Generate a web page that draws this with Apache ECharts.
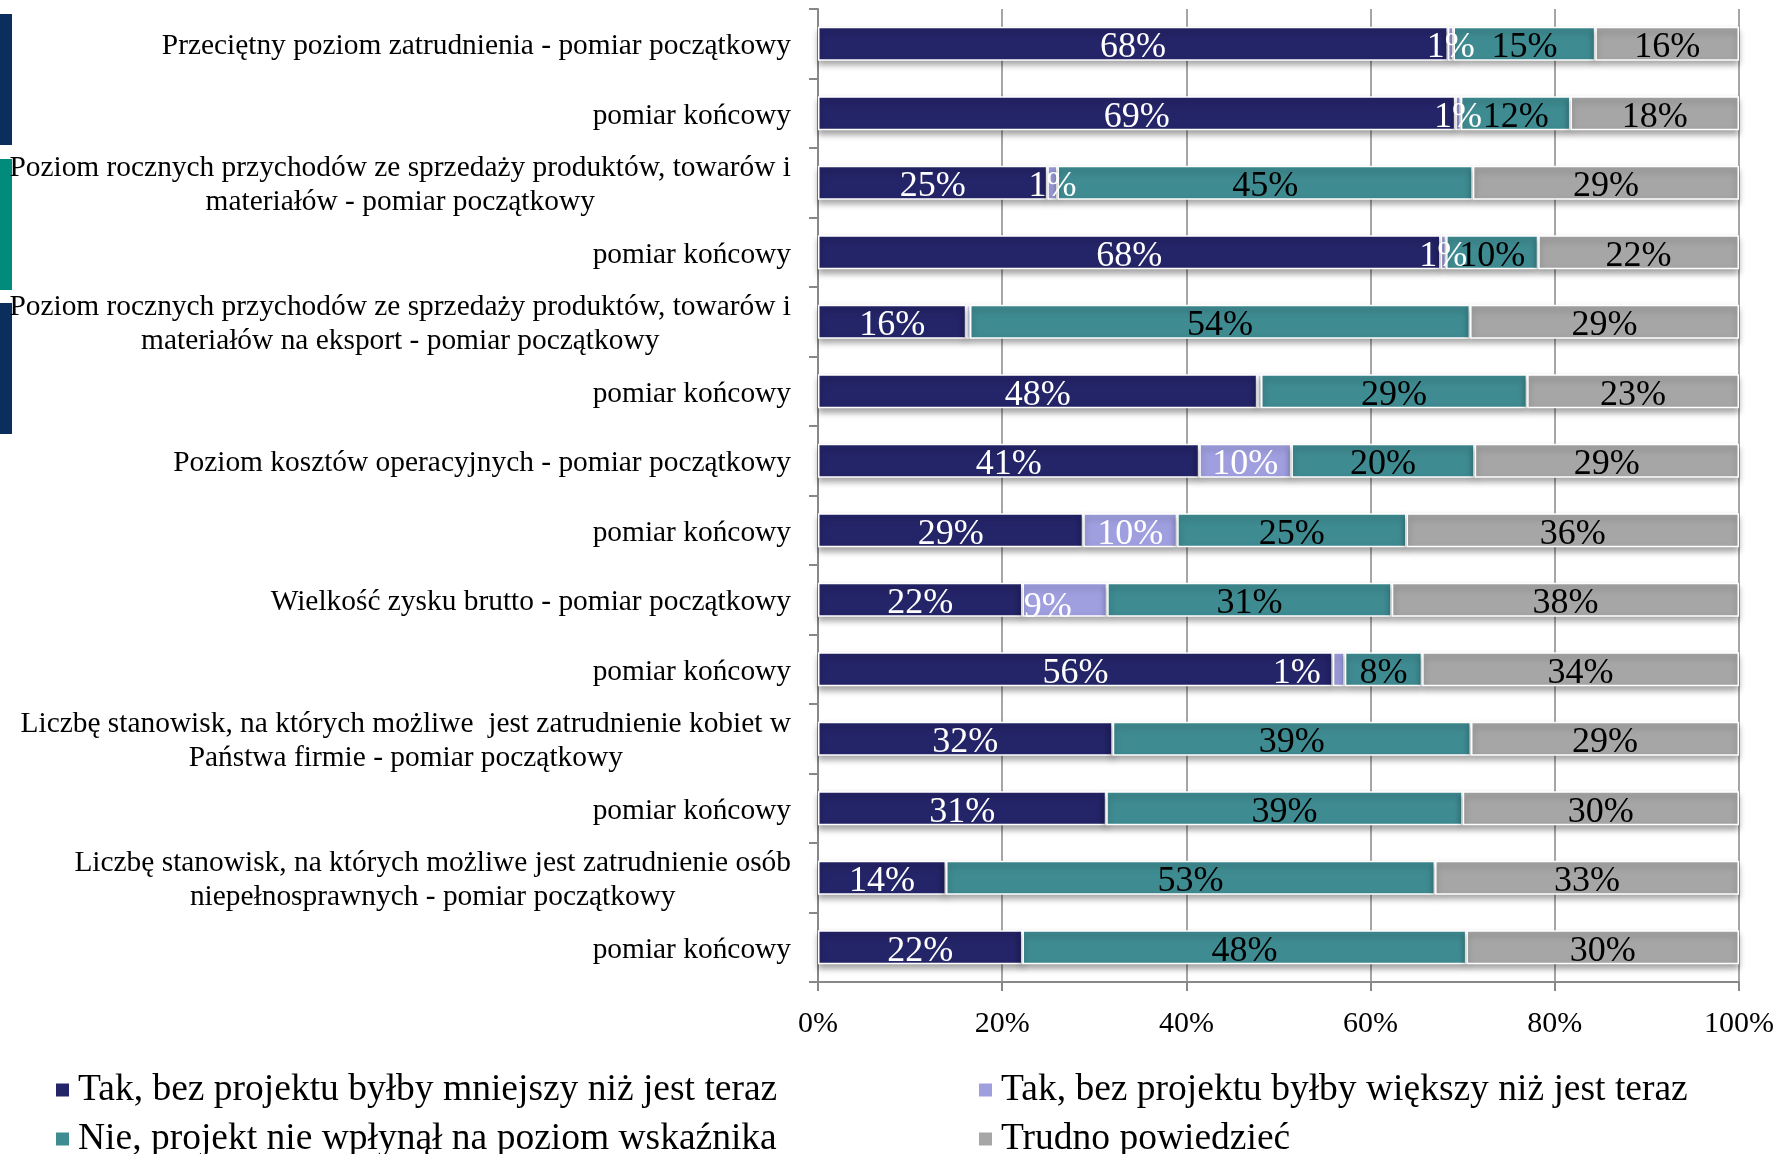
<!DOCTYPE html>
<html><head><meta charset="utf-8">
<script src="https://cdn.jsdelivr.net/npm/echarts@6/dist/echarts.min.js"></script>
<style>html,body{margin:0;padding:0;background:#fff}#c{width:1777px;height:1154px}</style>
</head><body><div id="c"></div>
<script>
const categories = [
  'Przeciętny poziom zatrudnienia - pomiar początkowy',
  'pomiar końcowy',
  'Poziom rocznych przychodów ze sprzedaży produktów, towarów i\nmateriałów - pomiar początkowy',
  'pomiar końcowy',
  'Poziom rocznych przychodów ze sprzedaży produktów, towarów i\nmateriałów na eksport - pomiar początkowy',
  'pomiar końcowy',
  'Poziom kosztów operacyjnych - pomiar początkowy',
  'pomiar końcowy',
  'Wielkość zysku brutto - pomiar początkowy',
  'pomiar końcowy',
  'Liczbę stanowisk, na których możliwe  jest zatrudnienie kobiet w\nPaństwa firmie - pomiar początkowy',
  'pomiar końcowy',
  'Liczbę stanowisk, na których możliwe jest zatrudnienie osób\nniepełnosprawnych - pomiar początkowy',
  'pomiar końcowy'
];
const seriesNames = [
  'Tak, bez projektu byłby mniejszy niż jest teraz',
  'Tak, bez projektu byłby większy niż jest teraz',
  'Nie, projekt nie wpłynął na poziom wskaźnika',
  'Trudno powiedzieć'
];
const smallerValues = [68.4, 69.2, 24.9, 67.6, 16.1, 47.7, 41.4, 28.8, 22.2, 55.9, 32.0, 31.3, 13.9, 22.2];
const biggerValues  = [0.6, 0.6, 1.1, 0.6, 0.4, 0.4, 10.0, 10.2, 9.2, 1.3, 0, 0, 0, 0];
const noEffectValues = [15.4, 11.9, 45.1, 10.0, 54.3, 28.9, 19.9, 24.9, 30.9, 8.4, 38.9, 38.7, 53.1, 48.2];
const hardToSayValues = [15.6, 18.3, 28.9, 21.8, 29.2, 23.0, 28.7, 36.1, 37.7, 34.4, 29.1, 30.0, 33.0, 29.6];
const xTickValues = [0, 20, 40, 60, 80, 100];

const FONT = "'Liberation Serif', 'Times New Roman', serif";
const colors = ['#242468', '#9f9fe0', '#3e8b91', '#a6a6a6'];
const labelColors = ['#ffffff', '#ffffff', '#000000', '#000000'];
const valueSets = [smallerValues, biggerValues, noEffectValues, hardToSayValues];

// manual label nudges as in the original (series index -> category index -> offset)
const labelNudge = { 1: { 8: [-17, 8], 9: [-42, 4] } };

const series = valueSets.map((vals, si) => ({
  name: seriesNames[si],
  type: 'bar',
  stack: 'total',
  barWidth: 34,
  itemStyle: {
    color: colors[si],
    borderColor: '#ffffff',
    borderWidth: 1.5,
    shadowColor: 'rgba(0,0,0,0.35)',
    shadowBlur: 6,
    shadowOffsetY: 4
  },
  label: {
    show: true,
    position: 'inside',
    color: labelColors[si],
    fontFamily: FONT,
    fontSize: 36,
    offset: [0, 4],
    formatter: p => { const r = Math.round(p.value); return r === 0 ? '' : r + '%'; }
  },
  data: vals.map((v, ci) => {
    const n = labelNudge[si] && labelNudge[si][ci];
    return n ? { value: v, label: { offset: n } } : v;
  })
}));

const legendPos = [
  { left: 54, top: 1070 },
  { left: 977, top: 1070 },
  { left: 54, top: 1119 },
  { left: 977, top: 1119 }
];

const chart = echarts.init(document.getElementById('c'), null, { renderer: 'canvas' });
chart.setOption({
  backgroundColor: '#ffffff',
  animation: false,
  grid: { left: 818, right: 38, top: 9, bottom: 172, containLabel: false },
  xAxis: {
    type: 'value',
    min: xTickValues[0],
    max: xTickValues[xTickValues.length - 1],
    interval: xTickValues[1] - xTickValues[0],
    axisLine: { show: true, lineStyle: { color: '#888888', width: 2 } },
    axisTick: { show: true, length: 9, lineStyle: { color: '#888888', width: 2 } },
    splitLine: { show: true, lineStyle: { color: '#888888', width: 1.5 } },
    axisLabel: { formatter: '{value}%', fontFamily: FONT, fontSize: 30, color: '#000', margin: 27 }
  },
  yAxis: {
    type: 'category',
    inverse: true,
    data: categories,
    axisLine: { show: true, lineStyle: { color: '#888888', width: 2 } },
    axisTick: { show: true, length: 9, lineStyle: { color: '#888888', width: 2 } },
    axisLabel: {
      margin: 27,
      padding: [6, 0, 0, 0],
      formatter: v => v.split('\n').map(s => '{c|' + s + '}').join('\n'),
      rich: { c: { fontFamily: FONT, fontSize: 29.4, lineHeight: 34, color: '#000', align: 'center' } }
    }
  },
  legend: seriesNames.map((n, i) => ({
    data: [n],
    left: legendPos[i].left,
    top: legendPos[i].top,
    padding: 0,
    itemWidth: 15,
    itemHeight: 15,
    itemGap: 0,
    icon: 'rect',
    selectedMode: false,
    textStyle: { fontFamily: FONT, fontSize: 37.5, color: '#000', lineHeight: 40, padding: [0, 0, 0, 3] }
  })),
  graphic: [
    { type: 'rect', left: 0, top: 14, shape: { width: 12, height: 131 }, style: { fill: '#0a2f5c' } },
    { type: 'rect', left: 0, top: 159, shape: { width: 12, height: 131 }, style: { fill: '#008b7b' } },
    { type: 'rect', left: 0, top: 303, shape: { width: 12, height: 131 }, style: { fill: '#0a2f5c' } }
  ],
  series: series
});
</script>
</body></html>
